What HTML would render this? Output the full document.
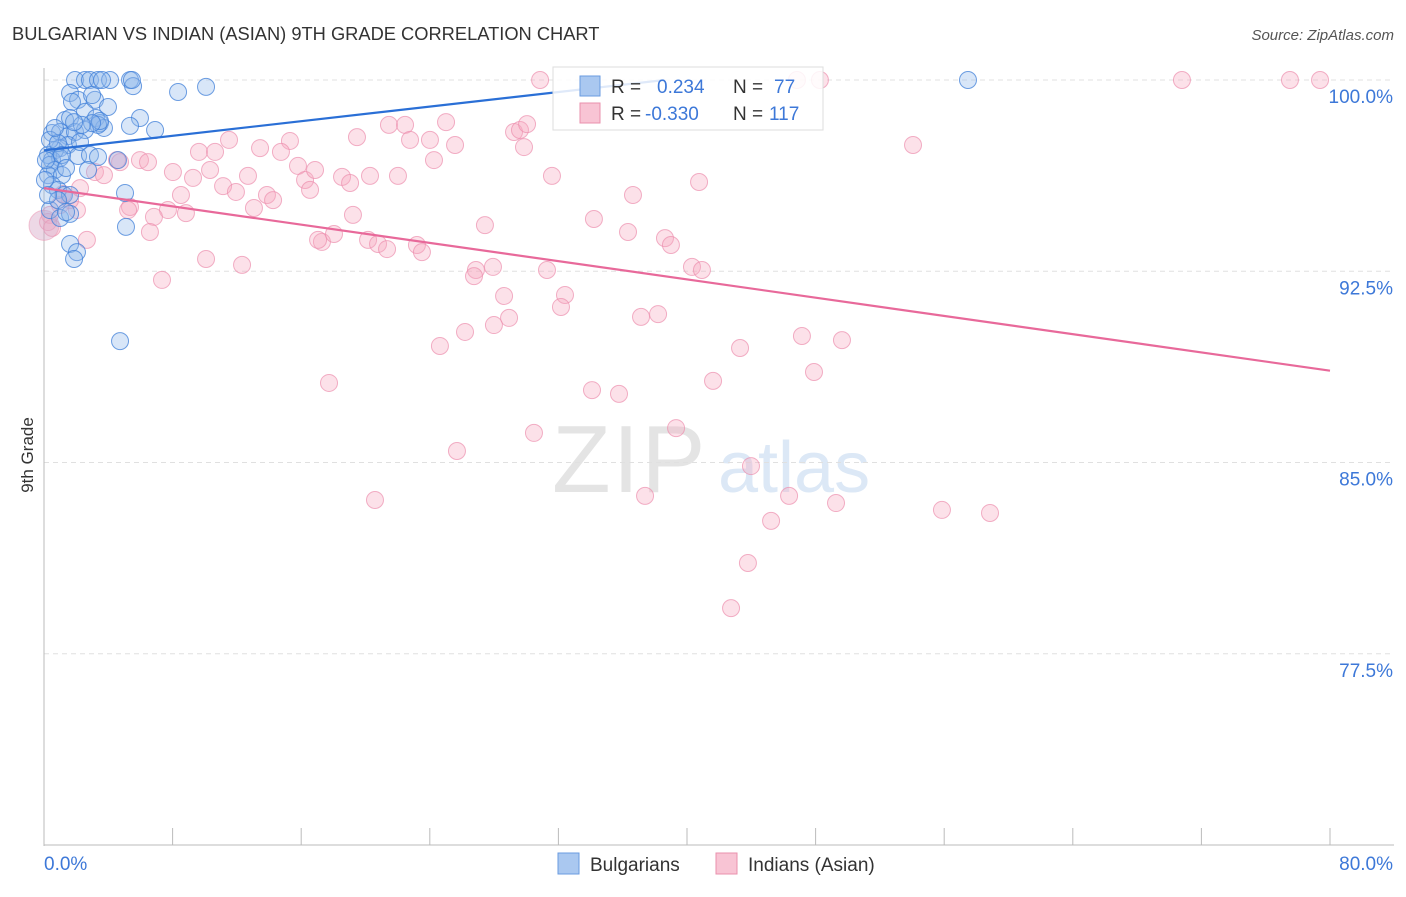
<!DOCTYPE html>
<html><head><meta charset="utf-8"><style>
body{margin:0;background:#fff;font-family:"Liberation Sans",sans-serif}
svg text{font-family:"Liberation Sans",sans-serif}
</style></head><body>
<svg id="chart" width="1406" height="892" xmlns="http://www.w3.org/2000/svg">
<text x="12" y="40" font-size="18.3" fill="#333">BULGARIAN VS INDIAN (ASIAN) 9TH GRADE CORRELATION CHART</text>
<text x="1394" y="40" font-size="15" fill="#555" text-anchor="end" font-style="italic">Source: ZipAtlas.com</text>
<g>
<text x="552" y="492" font-size="96" fill="#e4e4e4" font-family="Liberation Serif" letter-spacing="2">ZIP</text>
<text x="718" y="492" font-size="72" fill="#dce8f6">atlas</text>
</g>
<g id="grid"></g>
<g id="axes"></g>
<g id="pts"></g>
<g id="lines"></g>
<text transform="translate(33,455) rotate(-90)" font-size="17" fill="#333" text-anchor="middle">9th Grade</text>
<g>
<rect x="553" y="67" width="270" height="63" fill="#fff" fill-opacity="0.85" stroke="#ddd"/>
<rect x="580" y="76" width="20" height="20" fill="#aac8f0" stroke="#6a9be0"/>
<rect x="580" y="103" width="20" height="20" fill="#f8c4d4" stroke="#ea90ad"/>
<text x="611" y="93" font-size="19" fill="#333">R =</text>
<text x="657" y="93" font-size="19" fill="#3d78d8">0.234</text>
<text x="733" y="93" font-size="19" fill="#333">N =</text>
<text x="774" y="93" font-size="19" fill="#3d78d8">77</text>
<text x="611" y="120" font-size="19" fill="#333">R =</text>
<text x="645" y="120" font-size="19" fill="#3d78d8">-0.330</text>
<text x="733" y="120" font-size="19" fill="#333">N =</text>
<text x="769" y="120" font-size="19" fill="#3d78d8">117</text>
</g>
<g>
<rect x="558" y="853" width="21" height="21" fill="#aac8f0" stroke="#6a9be0"/>
<text x="590" y="871" font-size="19" fill="#333">Bulgarians</text>
<rect x="716" y="853" width="21" height="21" fill="#f8c4d4" stroke="#ea90ad"/>
<text x="748" y="871" font-size="19" fill="#333">Indians (Asian)</text>
</g>
</svg>
<script>
const xTicks=[0,8,16,24,32,40,48,56,64,72,80];
const yTicks=[100,92.5,85,77.5];
const yTickLabels=["100.0%","92.5%","85.0%","77.5%"];
const xTickLabels=["0.0%","80.0%"];
const bulgX=[1.93,2.55,2.86,3.36,4.11,5.35,5.54,8.34,10.08,57.48,1.62,2.12,1.74,3.17,3.98,2.55,1.31,1.62,3.23,3.48,3.73,3.36,5.97,5.35,6.91,0.5,1.0,1.49,1.93,2.55,1.49,1.0,0.68,0.25,0.5,1.0,2.12,2.86,3.36,4.6,0.37,0.68,0.25,1.12,2.74,0.5,0.87,1.24,1.62,5.04,0.37,1.0,1.62,5.1,1.62,2.05,1.87,4.73,3.48,2.99,5.47,0.37,0.12,0.87,1.12,0.06,0.87,1.37,3.61,2.36,2.99,0.68,2.24,1.87,1.37,0.25];
const bulgY=[100,100,100,100,100,100,99.76,99.53,99.73,100,99.49,99.22,99.14,99.22,98.94,98.75,98.43,98.51,98.51,98.31,98.12,98.24,98.51,98.2,98.04,97.92,97.96,97.8,97.96,98.04,97.45,97.33,97.25,97.06,96.86,96.94,97.02,97.06,96.98,96.86,96.67,96.47,96.27,96.27,96.47,95.88,95.69,95.49,95.49,95.57,94.9,94.59,94.75,94.24,93.57,93.25,92.98,89.76,98.39,98.31,100,97.65,96.86,97.53,97.06,96.08,95.29,94.82,100,98.24,99.41,98.12,97.57,98.35,96.55,95.49];
const indX=[30.86,46.84,48.27,70.79,77.51,79.38,54.06,15.3,19.47,21.46,22.46,22.77,24.01,25.01,25.57,24.26,29.24,29.61,30.05,31.6,29.86,11.51,9.64,10.64,5.97,6.47,4.73,8.02,9.27,10.33,11.14,11.94,12.69,13.44,14.74,15.8,16.24,16.55,16.86,18.54,19.04,20.28,22.02,13.87,14.25,13.06,8.52,7.71,8.83,6.84,6.59,5.35,5.23,2.67,2.05,1.62,1.0,0.37,0.25,0.5,1.18,2.24,3.17,3.73,4.54,10.08,12.32,7.34,17.29,17.05,18.04,19.22,20.16,20.78,21.34,23.2,23.51,27.43,26.87,26.75,27.93,28.62,28.93,27.99,26.19,24.63,31.29,32.41,32.16,34.21,36.33,36.64,38.63,39.0,40.75,40.31,40.93,37.14,38.2,43.3,47.15,49.64,47.9,41.62,17.73,34.09,35.77,30.48,25.69,39.32,43.98,37.39,20.59,46.35,49.27,45.23,55.86,58.85,43.79,42.74];
const indY=[100,100,100,100,100,100,97.45,97.61,97.76,98.24,98.24,97.65,97.65,98.35,97.45,96.86,97.96,98.04,98.27,96.24,97.37,97.65,97.18,97.18,96.86,96.78,96.78,96.39,96.16,96.47,95.84,95.61,96.24,97.33,97.18,96.63,96.08,95.69,96.47,96.2,95.96,96.24,96.24,95.49,95.29,94.98,95.49,94.9,94.78,94.63,94.04,95.02,94.9,93.73,94.9,95.29,95.1,94.71,94.43,94.2,95.53,95.76,96.39,96.27,96.86,92.98,92.75,92.16,93.65,93.73,93.96,94.71,93.73,93.57,93.37,93.53,93.25,94.31,92.55,92.31,92.67,91.53,90.67,90.39,90.12,89.57,92.55,91.57,91.1,94.55,94.04,95.49,93.8,93.53,96.0,92.67,92.55,90.71,90.82,89.49,89.96,89.8,88.55,88.2,88.12,87.84,87.69,86.16,85.45,86.35,84.86,83.69,83.53,83.69,83.41,82.71,83.14,83.02,81.06,79.29];
const bulgTrend=[[0,97.24],[38.6,100]];
const indTrend=[[0,95.76],[80,88.6]];
const NS="http://www.w3.org/2000/svg";
const X=v=>44+v*16.075, Y=v=>80+(100-v)*25.5;
function mk(t,a,p){const e=document.createElementNS(NS,t);for(const k in a)e.setAttribute(k,a[k]);p.appendChild(e);return e;}
const grid=document.getElementById('grid'),axes=document.getElementById('axes');
yTicks.forEach((t,i)=>{
 const l=mk('line',{x1:44,x2:1394,y1:Y(t),y2:Y(t),stroke:'#e0e0e0','stroke-dasharray':'5,4'},grid);
 
 
 const tx=mk('text',{x:1393,y:Y(t)+23,'font-size':19,fill:'#3d78d8','text-anchor':'end'},axes);
 tx.textContent=yTickLabels[i];
 
 
});
mk('line',{x1:44,x2:44,y1:68,y2:846,stroke:'#bbb'},axes);
mk('line',{x1:44,x2:1394,y1:845,y2:845,stroke:'#bbb'},axes);
xTicks.forEach(t=>{const l=mk('line',{x1:X(t),x2:X(t),y1:828,y2:845,stroke:'#bbb'},axes);
 
 });
[[0,'start',44],[80,'end',1393]].forEach((d,i)=>{const tx=mk('text',{x:d[2],y:870,'font-size':19,fill:'#3d78d8','text-anchor':d[1]},axes);tx.textContent=xTickLabels[i];
 
 });
const pts=document.getElementById('pts');
indX.forEach((x,i)=>{const c=mk('circle',{cx:X(x),cy:Y(indY[i]),r:8.5,fill:'#f5a9c0','fill-opacity':0.35,stroke:'#ec8fae','stroke-opacity':0.7,'stroke-width':1},pts);
 
 });
const big=mk('circle',{cx:X(0),cy:Y(94.3),r:15,fill:'#d8a8c8','fill-opacity':0.45,stroke:'#ec8fae','stroke-opacity':0.5},pts);


bulgX.forEach((x,i)=>{const c=mk('circle',{cx:X(x),cy:Y(bulgY[i]),r:8.5,fill:'#8fb8ec','fill-opacity':0.35,stroke:'#3f7fd8','stroke-opacity':0.75,'stroke-width':1},pts);
 
 });
const lines=document.getElementById('lines');
const bl=mk('line',{x1:X(bulgTrend[0][0]),y1:Y(bulgTrend[0][1]),x2:X(bulgTrend[1][0]),y2:Y(bulgTrend[1][1]),stroke:'#2a6fd6','stroke-width':2.2},lines);


const il=mk('line',{x1:X(indTrend[0][0]),y1:Y(indTrend[0][1]),x2:X(indTrend[1][0]),y2:Y(indTrend[1][1]),stroke:'#e8699a','stroke-width':2.2},lines);


</script>
</body></html>
